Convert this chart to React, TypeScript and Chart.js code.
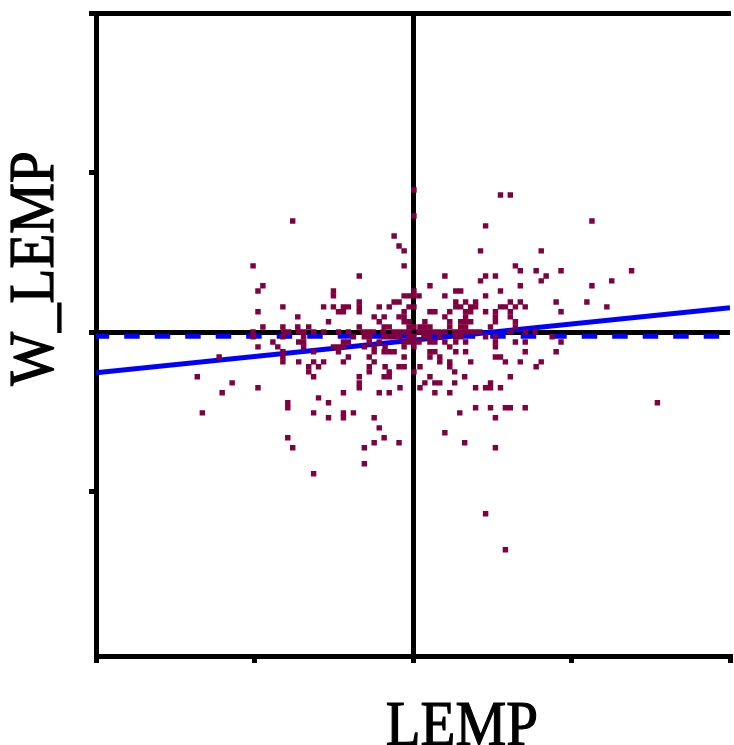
import React, { useEffect, useRef } from "react";
import { Chart, registerables } from "chart.js";

Chart.register(...registerables);

// ---- data ----
const xTitle = "LEMP";
const yTitle = "W_LEMP";
const xRange = [-2, 2];
const yRange = [-2.03, 2];
const xTicks = [-2, -1, 0, 1, 2];
const yTicks = [-1, 0, 1, 2];

// fitted line (LEMP -> W_LEMP) and mean level
const fitX = [-2, 2];
const fitY = [-0.254, 0.154];
const meanX = [-2, 2];
const meanY = [-0.025, -0.025];

// scatter rows: [W_LEMP value, LEMP values at that level]
const pointRows: [number, number[]][] = [
  [0.893, [0.006]],
  [0.862, [0.552, 0.614]],
  [0.73, [0.006]],
  [0.699, [-0.759, 1.129]],
  [0.668, [0.458]],
  [0.605, [-0.119]],
  [0.542, [-0.088]],
  [0.511, [-0.056, 0.426, 0.809]],
  [0.417, [-1.009, -0.056, 0.646]],
  [0.386, [0.677, 0.777, 0.934, 1.379]],
  [0.354, [-0.339, 0.201, 0.458, 0.52, 0.84]],
  [0.323, [0.426, 0.809, 1.254]],
  [0.292, [-0.947, 0.107, 0.677, 1.129]],
  [0.26, [-0.978, -0.502, 0.006, 0.27, 0.301, 0.552]],
  [0.229, [-0.502, -0.056, -0.025, 0.006, 0.038, 0.201, 0.458]],
  [0.191, [-0.339, -0.119, -0.088, 0.27, 0.332, 0.395, 0.614, 0.677, 0.903, 1.097]],
  [0.16, [-0.821, -0.564, -0.502, -0.439, -0.408, -0.339, -0.213, -0.15, -0.025, 0.006, 0.27, 0.301, 0.364, 0.395, 0.552, 0.583, 0.646, 0.708, 1.223]],
  [0.129, [-0.978, -0.47, -0.439, -0.339, -0.056, 0.107, 0.138, 0.232, 0.332, 0.364, 0.458, 0.52, 0.614, 0.934]],
  [0.097, [-0.727, -0.245, -0.182, -0.088, -0.056, 0.201, 0.332, 0.52, 0.614]],
  [0.066, [-0.533, -0.213, -0.056, -0.025, 0.075, 0.232, 0.301, 0.332, 0.364, 0.52, 0.646]],
  [0.034, [-0.947, -0.821, -0.727, -0.658, -0.339, -0.182, -0.15, -0.025, 0.006, 0.044, 0.075, 0.107, 0.232, 0.301, 0.332, 0.489, 0.646]],
  [0.003, [-1.009, -0.815, -0.784, -0.721, -0.69, -0.627, -0.564, -0.47, -0.408, -0.313, -0.282, -0.251, -0.188, -0.119, -0.088, -0.056, -0.025, 0.038, 0.069, 0.1, 0.132, 0.163, 0.201, 0.263, 0.295, 0.326, 0.357, 0.389, 0.42, 0.614, 0.708, 0.771]],
  [-0.028, [-1.009, -0.821, -0.69, -0.376, -0.307, -0.276, -0.182, -0.15, -0.119, -0.088, -0.025, 0.006, 0.069, 0.1, 0.169, 0.27, 0.301, 0.458, 0.52, 0.878]],
  [-0.06, [-0.884, -0.721, -0.69, -0.439, -0.408, -0.276, -0.213, -0.056, -0.025, 0.006, 0.038, 0.107, 0.138, 0.201, 0.27, 0.332, 0.52, 0.646, 0.708, 0.934]],
  [-0.091, [-0.978, -0.853, -0.69, -0.502, -0.47, -0.439, -0.307, -0.245, -0.176, -0.056, 0.006, 0.232, 0.52]],
  [-0.122, [-0.821, -0.627, -0.47, -0.245, -0.182, -0.15, -0.119, 0.107, 0.138, 0.27, 0.332, 0.708, 0.903]],
  [-0.154, [-1.223, -0.821, -0.408, -0.276, -0.056, 0.107, 0.169, 0.52, 0.552]],
  [-0.185, [-0.821, -0.721, -0.627, -0.564, -0.439, -0.245, 0.169, 0.232, 0.364, 0.583, 0.677, 0.809]],
  [-0.216, [-0.658, -0.596, -0.276, -0.176, -0.088, -0.056, 0.044, 0.232, 0.777]],
  [-0.248, [-0.658, -0.276, -0.15, 0.006, 0.263]],
  [-0.279, [-1.361, -0.627, -0.339, -0.182, -0.15, 0.107, 0.326, 0.614]],
  [-0.317, [-1.141, -0.339, 0.075, 0.138, 0.169, 0.263, 0.489]],
  [-0.348, [-0.978, -0.339, -0.082, 0.044, 0.395, 0.458, 0.489, 0.552]],
  [-0.379, [-1.204, -0.439, -0.213, -0.15, 0.138, 0.232]],
  [-0.411, [-0.596]],
  [-0.442, [-0.79, -0.533, 1.542]],
  [-0.473, [-0.79, 0.395, 0.489, 0.583, 0.614, 0.708]],
  [-0.505, [-1.329, -0.627, -0.439, -0.376, 0.295]],
  [-0.536, [-0.533, -0.439, -0.245, 0.52]],
  [-0.599, [-0.213]],
  [-0.63, [0.201]],
  [-0.661, [-0.79, -0.182]],
  [-0.693, [-0.245, -0.088, 0.326]],
  [-0.724, [-0.759, -0.307, 0.52]],
  [-0.824, [-0.307]],
  [-0.887, [-0.627]],
  [-1.138, [0.458]],
  [-1.364, [0.583]],
];

const MAROON = "#800040";
const BLUE = "#0000ff";

const titlePlugin = {
  id: "axisTitles",
  afterDraw(chart: any) {
    const ctx: CanvasRenderingContext2D = chart.ctx;
    const area = chart.chartArea;
    ctx.save();
    ctx.fillStyle = "#000";
    ctx.strokeStyle = "#000";
    ctx.lineWidth = 1.2;
    ctx.font = "63px 'Liberation Serif'";
    ctx.textAlign = "center";
    ctx.textBaseline = "alphabetic";
    // x title
    ctx.save();
    ctx.translate(area.left + (area.right - area.left) * 0.577, chart.height);
    ctx.scale(0.905, 1);
    ctx.fillText(xTitle, 0, 0);
    ctx.strokeText(xTitle, 0, 0);
    ctx.restore();
    // y title
    ctx.save();
    ctx.translate(53, area.top + (area.bottom - area.top) * 0.397);
    ctx.rotate(-Math.PI / 2);
    ctx.scale(0.905, 1);
    ctx.fillText(yTitle, 0, 0);
    ctx.strokeText(yTitle, 0, 0);
    ctx.restore();
    ctx.restore();
  },
};

export default function App() {
  const ref = useRef<HTMLCanvasElement>(null);

  useEffect(() => {
    const scatter = pointRows.flatMap(([y, xs]) => xs.map((x) => ({ x, y })));
    const fit = fitX.map((x, i) => ({ x, y: fitY[i] }));
    const mean = meanX.map((x, i) => ({ x, y: meanY[i] }));

    const zeroGrid = (c: any) =>
      c.tick && c.tick.value === 0 ? "#000" : "rgba(0,0,0,0)";

    const chart = new Chart(ref.current as HTMLCanvasElement, {
      type: "scatter",
      data: {
        datasets: [
          {
            data: scatter,
            pointStyle: "rect",
            pointRadius: 3.85,
            pointBorderWidth: 0,
            backgroundColor: MAROON,
            borderColor: MAROON,
          } as any,
          {
            data: fit,
            showLine: true,
            pointRadius: 0,
            borderColor: BLUE,
            borderWidth: 5,
          } as any,
          {
            data: mean,
            showLine: true,
            pointRadius: 0,
            borderColor: BLUE,
            borderWidth: 5,
            borderDash: [15.5, 15],
            borderDashOffset: 2.3,
          } as any,
        ],
      },
      options: {
        animation: false,
        responsive: false,
        devicePixelRatio: 1,
        events: [],
        layout: { padding: { left: 89, top: 13.5, right: 0, bottom: 82 } },
        plugins: { legend: { display: false }, tooltip: { enabled: false } },
        scales: {
          x: {
            type: "linear",
            position: "bottom",
            min: xRange[0],
            max: xRange[1],
            afterBuildTicks: (s: any) => {
              s.ticks = xTicks.map((v) => ({ value: v }));
            },
            ticks: { display: false },
            grid: {
              drawOnChartArea: true,
              color: zeroGrid,
              lineWidth: 5,
              drawTicks: true,
              tickLength: 7,
              tickColor: "#000",
              tickWidth: 5,
            },
            border: { display: true, color: "#000", width: 5 },
          },
          x2: {
            type: "linear",
            position: "top",
            min: xRange[0],
            max: xRange[1],
            ticks: { display: false },
            grid: { display: false, drawTicks: false, drawOnChartArea: false },
            border: { display: true, color: "#000", width: 5 },
          },
          y: {
            type: "linear",
            position: "left",
            min: yRange[0],
            max: yRange[1],
            afterBuildTicks: (s: any) => {
              s.ticks = yTicks.map((v) => ({ value: v }));
            },
            ticks: { display: false },
            grid: {
              drawOnChartArea: true,
              color: zeroGrid,
              lineWidth: 5,
              drawTicks: true,
              tickLength: 7,
              tickColor: "#000",
              tickWidth: 5,
            },
            border: { display: true, color: "#000", width: 5 },
          },
        },
      } as any,
      plugins: [titlePlugin],
    });
    return () => chart.destroy();
  }, []);

  return (
    <div
      style={{
        position: "fixed",
        left: 0,
        top: 0,
        width: 734,
        height: 745,
        background: "#fff",
      }}
    >
      <canvas
        ref={ref}
        width={734}
        height={745}
        style={{ display: "block", width: 734, height: 745 }}
      />
    </div>
  );
}
